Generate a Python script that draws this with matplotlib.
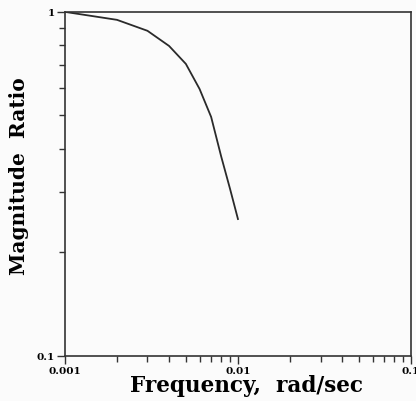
import matplotlib
matplotlib.use('Agg')
import matplotlib.pyplot as plt
from matplotlib.ticker import LogLocator, FixedLocator, NullFormatter

# frequency response
freq = [0.001, 0.002, 0.003, 0.004, 0.005, 0.006, 0.007, 0.008, 0.009, 0.01]
mag = [1.0, 0.948, 0.881, 0.796, 0.706, 0.597, 0.495, 0.38, 0.306, 0.25]

x_ticks = [0.001, 0.01, 0.1]
x_tick_labels = ['0.001', '0.01', '0.1']
y_ticks = [0.1, 1]
y_tick_labels = ['0.1', '1']

fig = plt.figure(figsize=(4.16, 4.02), dpi=100)
fig.patch.set_facecolor('#fbfbfb')
ax = fig.add_axes([0.156, 0.112, 0.832, 0.856])
ax.set_facecolor('#fbfbfb')
ax.plot(freq, mag, color='#2a2a2a', lw=1.3)

ax.set_xscale('log')
ax.set_yscale('log')
ax.set_xlim(0.001, 0.1)
ax.set_ylim(0.1, 1)

ax.xaxis.set_major_locator(FixedLocator(x_ticks))
ax.set_xticklabels(x_tick_labels)
ax.yaxis.set_major_locator(FixedLocator(y_ticks))
ax.set_yticklabels(y_tick_labels)
ax.xaxis.set_minor_locator(LogLocator(base=10, subs=range(2, 10)))
ax.yaxis.set_minor_locator(LogLocator(base=10, subs=range(2, 10)))
ax.xaxis.set_minor_formatter(NullFormatter())
ax.yaxis.set_minor_formatter(NullFormatter())

ax.tick_params(which='both', direction='out', top=False, right=False, width=1, color='#333333')
ax.tick_params(which='major', length=6)
ax.tick_params(which='minor', length=4)
ax.tick_params(axis='x', pad=1)
ax.tick_params(axis='y', pad=1)
for lab in ax.get_xticklabels() + ax.get_yticklabels():
    lab.set_fontfamily('DejaVu Serif')
    lab.set_fontweight('bold')
    lab.set_fontsize(7.5)

for sp in ax.spines.values():
    sp.set_color('#333333')
    sp.set_linewidth(1.2)

ax.set_xlabel('Frequency,  rad/sec', fontfamily='DejaVu Serif', fontweight='bold', fontsize=15.5)
ax.set_ylabel('Magnitude  Ratio', fontfamily='DejaVu Serif', fontweight='bold', fontsize=14.5)
ax.xaxis.set_label_coords(0.525, -0.052)
ax.yaxis.set_label_coords(-0.104, 0.525)

fig.savefig('out.png', dpi=100, facecolor=fig.get_facecolor())
